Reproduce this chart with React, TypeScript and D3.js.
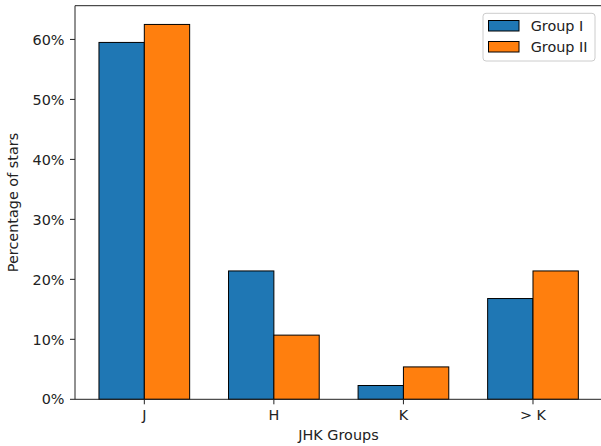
import React from "react";
import * as d3 from "d3";

const categories = ["J", "H", "K", "> K"];
const groupI = [59.5, 21.4, 2.3, 16.8];
const groupII = [62.5, 10.7, 5.4, 21.4];
const seriesNames = ["Group I", "Group II"];
const colors = ["#1f77b4", "#ff7f0e"];
const yTicks = [0, 10, 20, 30, 40, 50, 60];

const W = 601;
const H = 446;
const left = 75;
const right = 602.3;
const top = 5.7;
const bottom = 399.3;
const FONT = "DejaVu Sans, sans-serif";
const FS = 14.4;

export default function App() {
  const barW = 0.35;
  const x = d3.scaleLinear().domain([-0.535, 3.535]).range([left, right]);
  const maxV = d3.max([...groupI, ...groupII]) as number;
  const y = d3.scaleLinear().domain([0, maxV * 1.05]).range([bottom, top]);
  const series = [groupI, groupII];

  return (
    <svg
      width={W}
      height={H}
      style={{ position: "absolute", left: 0, top: 0, display: "block", background: "#fff" }}
      fontFamily={FONT}
    >
      <rect x={0} y={0} width={W} height={H} fill="#fff" />
      {series.map((vals, si) =>
        vals.map((v, i) => {
          const x0 = si === 0 ? x(i - barW) : x(i);
          const x1 = si === 0 ? x(i) : x(i + barW);
          return (
            <rect
              key={`${si}-${i}`}
              x={x0}
              y={y(v)}
              width={x1 - x0}
              height={y(0) - y(v)}
              fill={colors[si]}
              stroke="#000"
              strokeWidth={1}
            />
          );
        })
      )}
      {/* spines */}
      <line x1={left} x2={left} y1={top} y2={bottom} stroke="#222" strokeWidth={1} />
      <line x1={left} x2={right} y1={bottom} y2={bottom} stroke="#222" strokeWidth={1} />
      <line x1={left} x2={right} y1={top} y2={top} stroke="#222" strokeWidth={1} />
      <line x1={right} x2={right} y1={top} y2={bottom} stroke="#222" strokeWidth={1} />
      {/* y ticks */}
      {yTicks.map((t) => (
        <g key={t}>
          <line x1={left - 5} x2={left} y1={y(t)} y2={y(t)} stroke="#222" strokeWidth={1} />
          <text x={left - 10.5} y={y(t)} dy="0.36em" textAnchor="end" fontSize={FS} fill="#222">
            {`${t}%`}
          </text>
        </g>
      ))}
      {/* x ticks */}
      {categories.map((c, i) => (
        <g key={c}>
          <line x1={x(i)} x2={x(i)} y1={bottom} y2={bottom + 5} stroke="#222" strokeWidth={1} />
          <text x={x(i)} y={420} textAnchor="middle" fontSize={FS} fill="#222">
            {c}
          </text>
        </g>
      ))}
      <text x={338.5} y={440} textAnchor="middle" fontSize={FS} fill="#222">
        JHK Groups
      </text>
      <text
        transform={`translate(17.5, ${(top + bottom) / 2}) rotate(-90)`}
        textAnchor="middle"
        fontSize={FS}
        fill="#222"
      >
        Percentage of stars
      </text>
      {/* legend */}
      <rect x={483} y={13.3} width={112} height={47.7} rx={3} fill="#fff" fillOpacity={0.8} stroke="#ccc" strokeWidth={1} />
      {seriesNames.map((n, i) => (
        <g key={n}>
          <rect x={488.5} y={20.5 + i * 21} width={30.5} height={10.5} fill={colors[i]} stroke="#000" strokeWidth={1} />
          <text x={530.7} y={25.7 + i * 21} dy="0.36em" fontSize={FS} fill="#222">
            {n}
          </text>
        </g>
      ))}
    </svg>
  );
}
